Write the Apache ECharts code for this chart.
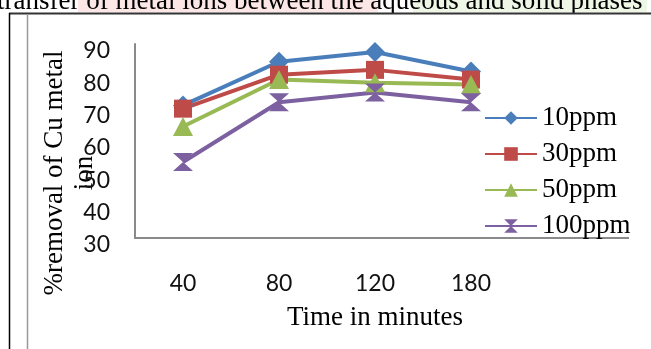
<!DOCTYPE html>
<html>
<head>
<meta charset="utf-8">
<script src="https://cdn.jsdelivr.net/npm/echarts@6/dist/echarts.min.js"></script>
<style>
html,body{margin:0;padding:0;background:#fff;}
#c{width:651px;height:349px;}
</style>
</head>
<body>
<div id="c"></div>
<script>
const categories = ['40', '80', '120', '180'];
const seriesNames = ['10ppm', '30ppm', '50ppm', '100ppm'];
const s10 = [71, 84.5, 87.5, 81.5];
const s30 = [70, 80.5, 82, 79];
const s50 = [64.5, 79, 78, 77.5];
const s100 = [53.5, 72, 75, 72];
const yTicks = [30, 40, 50, 60, 70, 80, 90];

const colors = ['#4A7EBB', '#BE4B48', '#98B954', '#7D60A0'];
const symbols = ['diamond', 'rect', 'triangle', 'path://M0,0 L10,0 L0,10 L10,10 Z'];
const sizes = [[20, 20], [18, 18], [20, 19], [20, 18]];
const values = [s10, s30, s50, s100];

const chart = echarts.init(document.getElementById('c'), null, {renderer: 'canvas'});
const series = seriesNames.map((n, i) => ({
  name: n,
  type: 'line',
  data: values[i],
  symbol: symbols[i],
  symbolSize: sizes[i],
  showAllSymbol: true,
  lineStyle: {color: colors[i], width: 4},
  itemStyle: {color: colors[i]},
  emphasis: {disabled: true},
  animation: false
}));

chart.setOption({
  animation: false,
  grid: {left: 135, right: 36, top: 44, bottom: 111},
  xAxis: {
    type: 'category',
    data: categories,
    max: 4,
    boundaryGap: true,
    axisLine: {lineStyle: {color: '#8a8a8a', width: 2}},
    axisTick: {show: false},
    axisLabel: {
      margin: 34, fontFamily: 'Lato', fontSize: 23, color: '#111',
      formatter: v => (v == null ? '' : v)
    },
    name: 'Time in minutes',
    nameLocation: 'middle',
    nameGap: 66,
    nameTextStyle: {fontFamily: 'Liberation Serif', fontSize: 27, color: '#000'}
  },
  yAxis: {
    type: 'value',
    min: yTicks[0],
    max: yTicks[yTicks.length - 1],
    interval: 10,
    splitLine: {show: false},
    axisLine: {show: true, lineStyle: {color: '#8a8a8a', width: 2}},
    axisTick: {show: false},
    axisLabel: {
      margin: 25, fontFamily: 'Lato', fontSize: 23, color: '#111',
      verticalAlign: 'top', lineHeight: 14
    }
  },
  legend: {
    orient: 'vertical',
    left: 484,
    top: 103,
    padding: 0,
    itemWidth: 52,
    itemHeight: 17,
    itemGap: 6,
    textStyle: {fontFamily: 'Liberation Serif', fontSize: 27, color: '#000', lineHeight: 30, padding: [0, 0, 0, 0]},
    data: seriesNames
  },
  graphic: [
    {type: 'rect', shape: {x: 78, y: 0, width: 300, height: 12}, style: {fill: '#FDE6E6'}, z: 0, silent: true},
    {type: 'rect', shape: {x: 413, y: 0, width: 234, height: 12}, style: {fill: '#EEF6E6'}, z: 0, silent: true},
    {type: 'text', x: -3, y: 15, style: {text: 'transfer of metal ions between the aqueous and solid phases', font: '27px "Liberation Serif"', fill: '#000', verticalAlign: 'bottom'}, z: 1, silent: true},
    {type: 'rect', shape: {x: 0, y: 13, width: 651, height: 6}, style: {fill: '#fff'}, z: 2, silent: true},
    {type: 'line', shape: {x1: 9, y1: 13.5, x2: 651, y2: 13.5}, style: {stroke: '#333', lineWidth: 2}, z: 3, silent: true},
    {type: 'line', shape: {x1: 9.5, y1: 13, x2: 9.5, y2: 349}, style: {stroke: '#000', lineWidth: 1.5}, z: 3, silent: true},
    {type: 'line', shape: {x1: 27.5, y1: 14, x2: 27.5, y2: 349}, style: {stroke: '#999', lineWidth: 1.5}, z: 3, silent: true},
    {type: 'line', shape: {x1: 614, y1: 238, x2: 629, y2: 238}, style: {stroke: '#8a8a8a', lineWidth: 2}, silent: true},
    {type: 'text', x: 70, y: 173, rotation: Math.PI / 2,
     style: {text: '%removal of Cu metal\nion', font: '27px "Liberation Serif"', fill: '#000', align: 'center', verticalAlign: 'middle', lineHeight: 30},
     silent: true}
  ],
  series: series
});
</script>
</body>
</html>
